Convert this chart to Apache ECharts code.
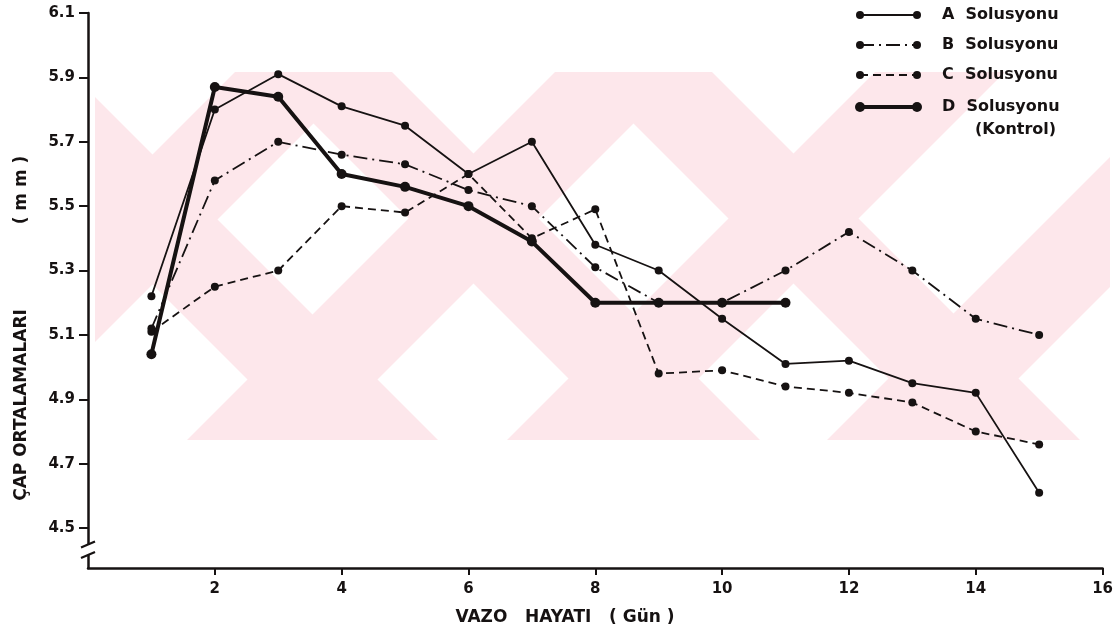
<!DOCTYPE html>
<html><head><meta charset="utf-8">
<script src="https://cdn.jsdelivr.net/npm/echarts@6/dist/echarts.min.js"></script>
<style>html,body{margin:0;padding:0;background:#fff}#c{width:1116px;height:634px}</style>
</head><body><div id="c"></div>
<script>
// ---- data ----
const daysA = [1,2,3,4,5,6,7,8,9,10,11,12,13,14,15];
const valuesA = [5.22,5.80,5.91,5.81,5.75,5.60,5.70,5.38,5.30,5.15,5.01,5.02,4.95,4.92,4.61];
const daysB = [1,2,3,4,5,6,7,8,9,10,11,12,13,14,15];
const valuesB = [5.12,5.58,5.70,5.66,5.63,5.55,5.50,5.31,5.20,5.20,5.30,5.42,5.30,5.15,5.10];
const daysC = [1,2,3,4,5,6,7,8,9,10,11,12,13,14,15];
const valuesC = [5.11,5.25,5.30,5.50,5.48,5.60,5.40,5.49,4.98,4.99,4.94,4.92,4.89,4.80,4.76];
const daysD = [1,2,3,4,5,6,7,8,9,10,11];
const valuesD = [5.04,5.87,5.84,5.60,5.56,5.50,5.39,5.20,5.20,5.20,5.20];
const seriesNames = ['A  Solusyonu','B  Solusyonu','C  Solusyonu','D  Solusyonu'];
const yTicks = [4.5,4.7,4.9,5.1,5.3,5.5,5.7,5.9,6.1];
const xTicks = [2,4,6,8,10,12,14,16];
const xTitle = 'VAZO   HAYATI   ( Gün )';
const yTitle1 = 'ÇAP ORTALAMALARI';
const yTitle2 = '( m m )';

// ---- style ----
const INK = '#161212';
const PINK = '#fde7eb';
const FONT = 'DejaVu Sans';

function pairs(xs, ys){ return xs.map((x,i)=>[x, ys[i]]); }

const chart = echarts.init(document.getElementById('c'), null, {renderer:'canvas'});

const lineDefs = [
  {data: pairs(daysA, valuesA), width: 1.8, type: 'solid', size: 8},
  {data: pairs(daysB, valuesB), width: 1.8, type: [14,5,2,5], size: 8},
  {data: pairs(daysC, valuesC), width: 1.8, type: [8,5], size: 8},
  {data: pairs(daysD, valuesD), width: 4, type: 'solid', size: 10}
];

// watermark polygons (decorative background), clipped to a rectangle
function clipPoly(poly, xmin, xmax, ymin, ymax){
  const edges = [
    p => p[0] >= xmin, p => p[0] <= xmax, p => p[1] >= ymin, p => p[1] <= ymax
  ];
  const inter = [
    (a,b)=>{const t=(xmin-a[0])/(b[0]-a[0]); return [xmin, a[1]+t*(b[1]-a[1])];},
    (a,b)=>{const t=(xmax-a[0])/(b[0]-a[0]); return [xmax, a[1]+t*(b[1]-a[1])];},
    (a,b)=>{const t=(ymin-a[1])/(b[1]-a[1]); return [a[0]+t*(b[0]-a[0]), ymin];},
    (a,b)=>{const t=(ymax-a[1])/(b[1]-a[1]); return [a[0]+t*(b[0]-a[0]), ymax];}
  ];
  let out = poly;
  for (let e=0;e<4;e++){
    const inp = out; out = [];
    for (let i=0;i<inp.length;i++){
      const cur = inp[i], prev = inp[(i+inp.length-1)%inp.length];
      const ci = edges[e](cur), pi = edges[e](prev);
      if (ci){ if(!pi) out.push(inter[e](prev,cur)); out.push(cur); }
      else if (pi){ out.push(inter[e](prev,cur)); }
    }
    if (!out.length) break;
  }
  return out;
}
const WM = {x0: 95, x1: 1110, y0: 72, y1: 440};
const H = WM.y1 - WM.y0;
const wmShapes = [];
function bandBack(xTop, w){ // "\" band
  return [[xTop, WM.y0],[xTop+w, WM.y0],[xTop+w+H, WM.y1],[xTop+H, WM.y1]];
}
function bandFwd(xTop, w){ // "/" band
  return [[xTop, WM.y0],[xTop+w, WM.y0],[xTop+w-H, WM.y1],[xTop-H, WM.y1]];
}
[[-60,130],[262,130],[582,130]].forEach(b=>wmShapes.push(bandBack(b[0],b[1])));
[[235,130],[555,130],[875,130],[1195,130]].forEach(b=>wmShapes.push(bandFwd(b[0],b[1])));

const graphics = [];
wmShapes.forEach(p=>{
  const c = clipPoly(p, WM.x0, WM.x1, WM.y0, WM.y1);
  if (c.length>2) graphics.push({type:'polygon', silent:true, z:-10, shape:{points:c}, style:{fill:PINK}});
});

// legend (drawn)
const legRows = [15, 45, 75, 107];
lineDefs.forEach((d,i)=>{
  const y = legRows[i];
  const dash = Array.isArray(d.type) ? d.type : null;
  graphics.push({type:'line', shape:{x1:860,y1:y,x2:917,y2:y}, style:{stroke:INK, lineWidth:d.width, lineDash:dash}});
  graphics.push({type:'circle', shape:{cx:860,cy:y,r:d.size/2}, style:{fill:INK}});
  graphics.push({type:'circle', shape:{cx:917,cy:y,r:d.size/2}, style:{fill:INK}});
  graphics.push({type:'text', x:942, y:y, style:{text:seriesNames[i], fill:INK, font:'bold 16px "'+FONT+'"', textVerticalAlign:'middle'}});
});
graphics.push({type:'text', x:975, y:130, style:{text:'(Kontrol)', fill:INK, font:'bold 16px "'+FONT+'"', textVerticalAlign:'middle'}});

// axis titles
graphics.push({type:'text', x:565, y:618, style:{text:xTitle, fill:INK, font:'bold 17px "'+FONT+'"', textAlign:'center', textVerticalAlign:'middle'}});
graphics.push({type:'text', x:22, y:405, rotation:Math.PI/2, style:{text:yTitle1, fill:INK, font:'bold 17px "'+FONT+'"', textAlign:'center', textVerticalAlign:'middle'}});
graphics.push({type:'text', x:22, y:190, rotation:Math.PI/2, style:{text:yTitle2, fill:INK, font:'bold 17px "'+FONT+'"', textAlign:'center', textVerticalAlign:'middle'}});

const axisLabelStyle = {color: INK, fontWeight:'bold', fontSize:15, fontFamily: FONT};

chart.setOption({
  animation: false,
  backgroundColor: '#fff',
  grid: {left: 88, right: 13, top: 13, bottom: 66, containLabel: false},
  xAxis: {
    type: 'value', min: 0, max: 16,
    axisLine: {show: true, onZero: false, lineStyle: {color: INK, width: 2.5}},
    axisTick: {show: true, customValues: xTicks, length: 7, lineStyle: {color: INK, width: 2}},
    axisLabel: Object.assign({customValues: xTicks, margin: 14}, axisLabelStyle),
    splitLine: {show: false}
  },
  yAxis: {
    type: 'value', min: 4.376, max: 6.1,
    axisLine: {show: true, onZero: false, lineStyle: {color: INK, width: 2.5}},
    axisTick: {show: true, customValues: yTicks, length: 9, lineStyle: {color: INK, width: 2}},
    axisLabel: Object.assign({customValues: yTicks, margin: 13, formatter: v => v.toFixed(1)}, axisLabelStyle),
    splitLine: {show: false}
  },
  graphic: graphics,
  series: lineDefs.map((d,i)=>({
    name: seriesNames[i],
    type: 'line',
    data: d.data,
    symbol: 'circle',
    symbolSize: d.size,
    showSymbol: true,
    lineStyle: {color: INK, width: d.width, type: d.type},
    itemStyle: {color: INK},
    z: 3 + i
  }))
});

// axis break mark on the y axis
const pTop = chart.convertToPixel({gridIndex:0}, [0, 4.455]);
const pBot = chart.convertToPixel({gridIndex:0}, [0, 4.41]);
const bx = pTop[0], yA = pTop[1], yB = pBot[1];
graphics.push({type:'rect', z:50, shape:{x:bx-3, y:yA+2, width:6, height:(yB-yA)-4}, style:{fill:'#fff'}});
graphics.push({type:'line', z:51, shape:{x1:bx-7, y1:yA+5, x2:bx+7, y2:yA-1}, style:{stroke:INK, lineWidth:2.2}});
graphics.push({type:'line', z:51, shape:{x1:bx-7, y1:yB+1, x2:bx+7, y2:yB-5}, style:{stroke:INK, lineWidth:2.2}});
chart.setOption({graphic: graphics});
</script>
</body></html>
